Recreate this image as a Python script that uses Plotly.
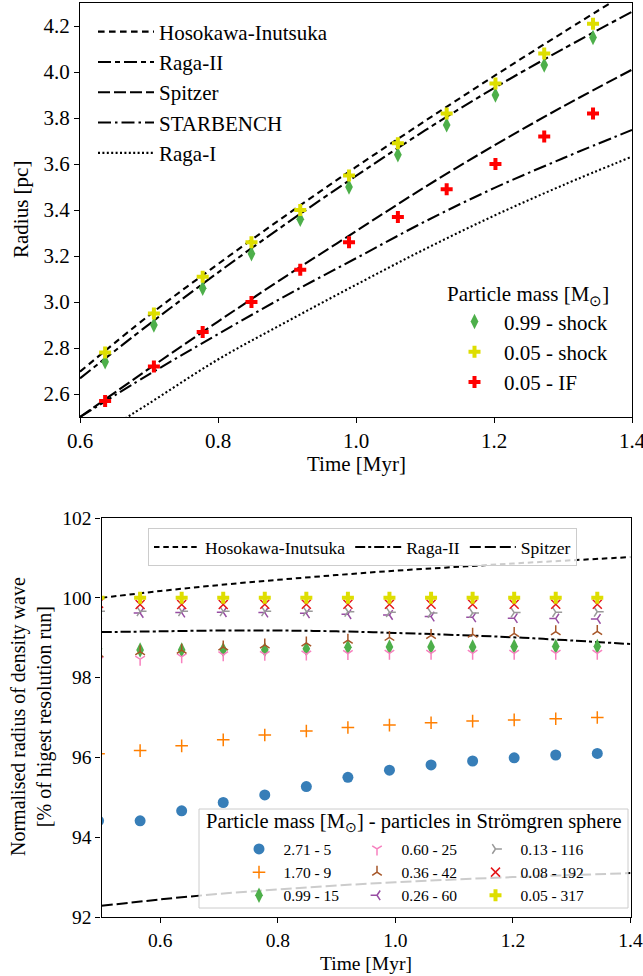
import plotly.graph_objects as go

W, H = 643, 976
FONT = "Liberation Serif"

# ---------------- data: top panel ----------------
t_top = [0.6364, 0.7071, 0.7778, 0.8485, 0.9192, 0.9899, 1.0607, 1.1314, 1.2021, 1.2728, 1.3435]
r_099_shock = [2.74, 2.90, 3.06, 3.21, 3.36, 3.50, 3.64, 3.77, 3.90, 4.03, 4.15]
r_005_shock = [2.78, 2.95, 3.11, 3.26, 3.40, 3.55, 3.69, 3.82, 3.95, 4.08, 4.21]
r_005_if = [2.57, 2.72, 2.87, 3.00, 3.14, 3.26, 3.37, 3.49, 3.60, 3.72, 3.82]

t_model_top = [0.6, 0.7, 0.8, 0.9, 1.0, 1.1, 1.2, 1.3, 1.4]
hi_top = [2.697, 2.942, 3.165, 3.380, 3.587, 3.787, 3.982, 4.172, 4.358]
raga2_top = [2.668, 2.903, 3.128, 3.343, 3.548, 3.746, 3.930, 4.100, 4.262]
spitzer_top = [2.500, 2.710, 2.915, 3.115, 3.308, 3.500, 3.680, 3.850, 4.010]
starbench_top = [2.500, 2.685, 2.860, 3.030, 3.190, 3.350, 3.495, 3.625, 3.748]
raga1_top = [2.370, 2.559, 2.750, 2.915, 3.075, 3.230, 3.375, 3.508, 3.632]

# ---------------- data: bottom panel ----------------
t_bot = [0.4950, 0.5657, 0.6364, 0.7071, 0.7778, 0.8485, 0.9192, 0.9899, 1.0607, 1.1314, 1.2021, 1.2728, 1.3435]
n_271 = [94.41, 94.41, 94.66, 94.87, 95.06, 95.27, 95.50, 95.68, 95.81, 95.91, 95.99, 96.06, 96.10]
n_170 = [96.09, 96.17, 96.29, 96.44, 96.56, 96.66, 96.75, 96.81, 96.87, 96.91, 96.94, 96.97, 97.00]
n_099 = [98.72, 98.69, 98.69, 98.70, 98.70, 98.72, 98.76, 98.77, 98.77, 98.77, 98.78, 98.78, 98.78]
n_060 = [98.44, 98.46, 98.52, 98.57, 98.58, 98.59, 98.60, 98.61, 98.61, 98.61, 98.61, 98.61, 98.61]
n_036 = [98.60, 98.65, 98.69, 98.77, 98.82, 98.87, 98.94, 99.01, 99.06, 99.09, 99.11, 99.15, 99.16]
n_026 = [99.60, 99.62, 99.63, 99.64, 99.63, 99.61, 99.59, 99.57, 99.53, 99.51, 99.49, 99.48, 99.47]
n_013 = [99.66, 99.66, 99.66, 99.66, 99.66, 99.66, 99.65, 99.64, 99.62, 99.62, 99.63, 99.64, 99.65]
n_008 = [99.86, 99.83, 99.83, 99.83, 99.84, 99.84, 99.84, 99.84, 99.84, 99.84, 99.84, 99.84, 99.84]
n_005 = [100.0, 100.0, 100.0, 100.0, 100.0, 100.0, 100.0, 100.0, 100.0, 100.0, 100.0, 100.0, 100.0]

t_model_bot = [0.5, 0.6, 0.7, 0.8, 0.9, 1.0, 1.1, 1.2, 1.3, 1.4]
hi_bot = [100.00, 100.17, 100.32, 100.45, 100.57, 100.68, 100.77, 100.86, 100.94, 101.02]
raga2_bot = [99.14, 99.16, 99.18, 99.18, 99.16, 99.12, 99.07, 99.01, 98.93, 98.84]
spitzer_bot = [92.28, 92.44, 92.58, 92.69, 92.79, 92.87, 92.94, 93.00, 93.05, 93.10]

top_xticks = [0.6, 0.8, 1.0, 1.2, 1.4]
top_yticks = [2.6, 2.8, 3.0, 3.2, 3.4, 3.6, 3.8, 4.0, 4.2]
bot_xticks = [0.6, 0.8, 1.0, 1.2, 1.4]
bot_yticks = [92, 94, 96, 98, 100, 102]

# ---------------- helpers ----------------
def px_x(p):
    return p / W

def px_y(p):
    return 1 - p / H

fig = go.Figure()

top_lines = [
    ("Hosokawa-Inutsuka", hi_top, "6.6px,4.4px"),
    ("Raga-II", raga2_top, "13px,4px,5px,4px"),
    ("Spitzer", spitzer_top, "12px,4px"),
    ("STARBENCH", starbench_top, "13px,4px,2.5px,4px"),
    ("Raga-I", raga1_top, "2px,2.4px"),
]
for name, ys, dash in top_lines:
    fig.add_trace(go.Scatter(x=t_model_top, y=ys, mode="lines", name=name,
                             line=dict(color="black", width=2.1, dash=dash, shape="spline"),
                             xaxis="x", yaxis="y", legend="legend"))

top_marks = [
    ("0.99 - shock", r_099_shock, "diamond-tall", "#4daf4a", 11),
    ("0.05 - shock", r_005_shock, "cross", "#dede00", 10),
    ("0.05 - IF", r_005_if, "cross", "#ff0000", 10),
]
for name, ys, sym, col, sz in top_marks:
    fig.add_trace(go.Scatter(x=t_top, y=ys, mode="markers", name=name,
                             marker=dict(symbol=sym, color=col, size=sz, line=dict(width=0)),
                             xaxis="x", yaxis="y", legend="legend2"))

bot_lines = [
    ("Hosokawa-Inutsuka", hi_bot, "5.5px,3.8px"),
    ("Raga-II", raga2_bot, "10px,3px,3px,3px"),
    ("Spitzer", spitzer_bot, "11px,4px"),
]
for name, ys, dash in bot_lines:
    fig.add_trace(go.Scatter(x=t_model_bot, y=ys, mode="lines", name=name,
                             line=dict(color="black", width=2.0, dash=dash, shape="spline"),
                             xaxis="x2", yaxis="y2", legend="legend3"))

bot_marks = [
    ("2.71 - 5", n_271, "circle", "#377eb8", 11, 0, "legend4"),
    ("1.70 - 9", n_170, "cross-thin", "#ff7f00", 9, 1.5, "legend4"),
    ("0.99 - 15", n_099, "diamond-tall", "#4daf4a", 11, 0, "legend4"),
    ("0.60 - 25", n_060, "y-down", "#f781bf", 8, 1.5, "legend5"),
    ("0.36 - 42", n_036, "y-up", "#a65628", 8, 1.5, "legend5"),
    ("0.26 - 60", n_026, "y-left", "#984ea3", 8, 1.5, "legend5"),
    ("0.13 - 116", n_013, "y-right", "#999999", 8, 1.5, "legend6"),
    ("0.08 - 192", n_008, "x-thin", "#e41a1c", 9, 1.5, "legend6"),
    ("0.05 - 317", n_005, "cross", "#dede00", 10, 0, "legend6"),
]
for name, ys, sym, col, sz, lw, lg in bot_marks:
    fig.add_trace(go.Scatter(x=t_bot, y=ys, mode="markers", name=name,
                             marker=dict(symbol=sym, color=col, size=sz,
                                         line=dict(width=lw, color=col)),
                             xaxis="x2", yaxis="y2", legend=lg))

axis_common = dict(showline=True, linecolor="black", linewidth=1.2, mirror=True,
                   ticks="outside", ticklen=5, tickwidth=1.2, tickcolor="black",
                   showgrid=False, zeroline=False, automargin=False)

fig.update_layout(
    template="none",
    width=W, height=H,
    margin=dict(l=0, r=0, t=0, b=0, pad=0, autoexpand=False),
    paper_bgcolor="white", plot_bgcolor="white",
    font=dict(family=FONT, color="black"),
    showlegend=True,
    xaxis=dict(domain=[px_x(80), px_x(632)], range=[0.6, 1.4], tickvals=top_xticks,
               anchor="y", tickfont=dict(size=21), tickformat=".1f",
               ticklabeloverflow="allow", **axis_common),
    yaxis=dict(domain=[px_y(417), px_y(3)], range=[2.5, 4.3], tickvals=top_yticks,
               anchor="x", tickfont=dict(size=21), tickformat=".1f", **axis_common),
    xaxis2=dict(domain=[px_x(101.5), px_x(630.5)], range=[0.5, 1.4], tickvals=bot_xticks,
                anchor="y2", tickfont=dict(size=19.5), tickformat=".1f",
                ticklabeloverflow="allow", **axis_common),
    yaxis2=dict(domain=[px_y(917), px_y(518)], range=[92, 102], tickvals=bot_yticks,
                anchor="x2", tickfont=dict(size=19.5), **axis_common),
    legend=dict(x=px_x(93), y=px_y(11.5), xanchor="left", yanchor="top",
                bgcolor="rgba(0,0,0,0)", borderwidth=0, font=dict(size=21),
                itemwidth=56, tracegroupgap=0),
    legend2=dict(x=px_x(445), y=px_y(274), xanchor="left", yanchor="top",
                 bgcolor="rgba(0,0,0,0)", borderwidth=0, font=dict(size=21),
                 itemwidth=49, tracegroupgap=0,
                 title=dict(text="Particle mass [M<sub>⊙</sub>]", font=dict(size=21))),
    legend3=dict(x=px_x(148), y=px_y(528), xanchor="left", yanchor="top",
                 orientation="h", bgcolor="rgba(255,255,255,0.8)",
                 bordercolor="#cccccc", borderwidth=1, font=dict(size=17.5),
                 itemwidth=46),
    legend4=dict(x=px_x(234.5), y=px_y(832.4), xanchor="left", yanchor="top",
                 bgcolor="rgba(0,0,0,0)", borderwidth=0, font=dict(size=15.5),
                 itemwidth=39, tracegroupgap=0),
    legend5=dict(x=px_x(352.5), y=px_y(832.4), xanchor="left", yanchor="top",
                 bgcolor="rgba(0,0,0,0)", borderwidth=0, font=dict(size=15.5),
                 itemwidth=39, tracegroupgap=0),
    legend6=dict(x=px_x(470.5), y=px_y(832.4), xanchor="left", yanchor="top",
                 bgcolor="rgba(0,0,0,0)", borderwidth=0, font=dict(size=15.5),
                 itemwidth=40, tracegroupgap=0),
    shapes=[
        dict(type="rect", xref="paper", yref="paper",
             x0=px_x(199), x1=px_x(628), y0=px_y(908), y1=px_y(809),
             fillcolor="rgba(255,255,255,0.8)", line=dict(color="#cccccc", width=1),
             layer="above"),
    ],
    annotations=[
        dict(text="Radius [pc]", xref="paper", yref="paper", x=px_x(21), y=px_y(210),
             textangle=-90, showarrow=False, font=dict(size=21), xanchor="center", yanchor="middle"),
        dict(text="Time [Myr]", xref="paper", yref="paper", x=px_x(356), y=px_y(464),
             showarrow=False, font=dict(size=21), xanchor="center", yanchor="middle"),
        dict(text="Time [Myr]", xref="paper", yref="paper", x=px_x(366), y=px_y(963),
             showarrow=False, font=dict(size=19.5), xanchor="center", yanchor="middle"),
        dict(text="Normalised radius of density wave<br>[% of higest resolution run]",
             xref="paper", yref="paper", x=px_x(31), y=px_y(717),
             textangle=-90, showarrow=False, font=dict(size=20), xanchor="center", yanchor="middle"),
        dict(text="Particle mass [M<sub>⊙</sub>] - particles in Strömgren sphere",
             xref="paper", yref="paper", x=px_x(413.5), y=px_y(822),
             showarrow=False, font=dict(size=20.5), xanchor="center", yanchor="middle"),
    ],
)

fig.write_html("out.html")
